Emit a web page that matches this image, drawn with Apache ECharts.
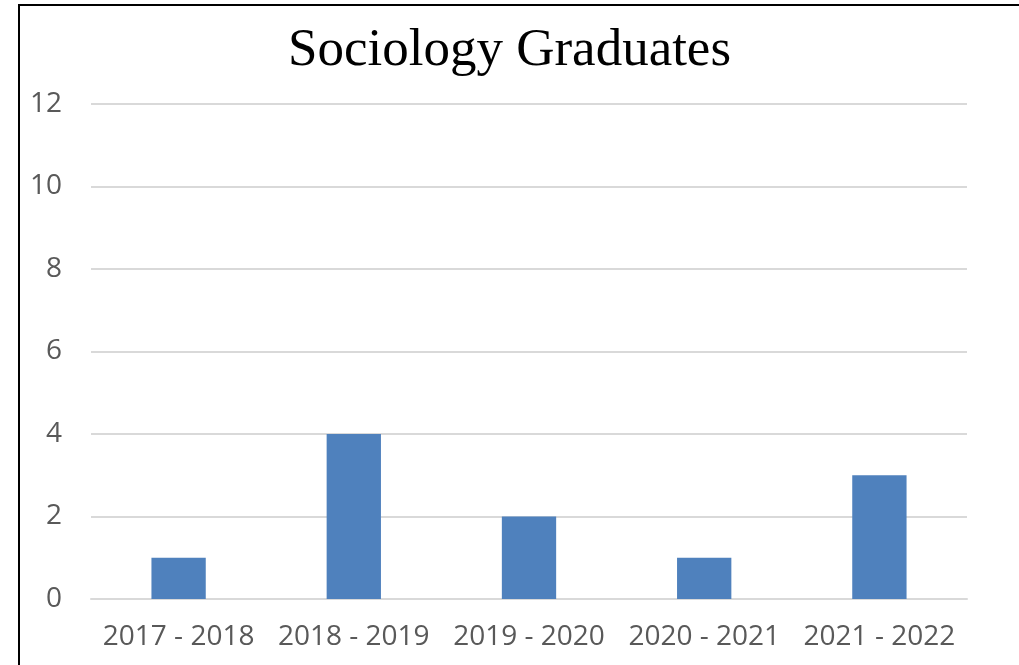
<!DOCTYPE html>
<html>
<head>
<meta charset="utf-8">
<script src="https://cdn.jsdelivr.net/npm/echarts@6/dist/echarts.min.js"></script>
<style>
html,body{margin:0;padding:0;background:#fff;}
#main{width:1019px;height:665px;}
</style>
</head>
<body>
<div id="main"></div>
<script type="text/javascript">
// data
var years = ['2017 - 2018', '2018 - 2019', '2019 - 2020', '2020 - 2021', '2021 - 2022'];
var graduates = [1, 4, 2, 1, 3];

var myChart = echarts.init(document.getElementById('main'));
var option = {
	animation: false,
	backgroundColor: '#fff',
	title: {
		text: 'Sociology Graduates',
		left: 'center',
		top: 20,
		textStyle: {
			fontFamily: 'Liberation Serif',
			fontSize: 53,
			fontWeight: 'normal',
			color: '#000'
		}
	},
	graphic: [{
		type: 'rect',
		shape: { x: 19, y: 5, width: 1100, height: 700 },
		style: { fill: 'none', stroke: '#000', lineWidth: 2 }
	}],
	grid: { left: 91, right: 52, top: 104, bottom: 66 },
	xAxis: {
		type: 'category',
		data: years,
		axisTick: { show: false },
		axisLine: { lineStyle: { color: '#d9d9d9', width: 2 } },
		axisLabel: {
			interval: 0,
			hideOverlap: false,
			margin: 24,
			fontFamily: 'Open Sans',
			fontSize: 28,
			color: '#595959'
		}
	},
	yAxis: {
		type: 'value',
		min: 0,
		max: 12,
		interval: 2,
		axisLine: { show: false },
		axisTick: { show: false },
		splitLine: { lineStyle: { color: '#d9d9d9', width: 2 } },
		axisLabel: {
			margin: 29,
			fontFamily: 'Open Sans',
			fontSize: 28,
			color: '#595959'
		}
	},
	series: [{
		type: 'bar',
		data: graduates,
		barWidth: '31%',
		itemStyle: { color: '#4f81bd' }
	}]
};
myChart.setOption(option);
</script>
</body>
</html>
